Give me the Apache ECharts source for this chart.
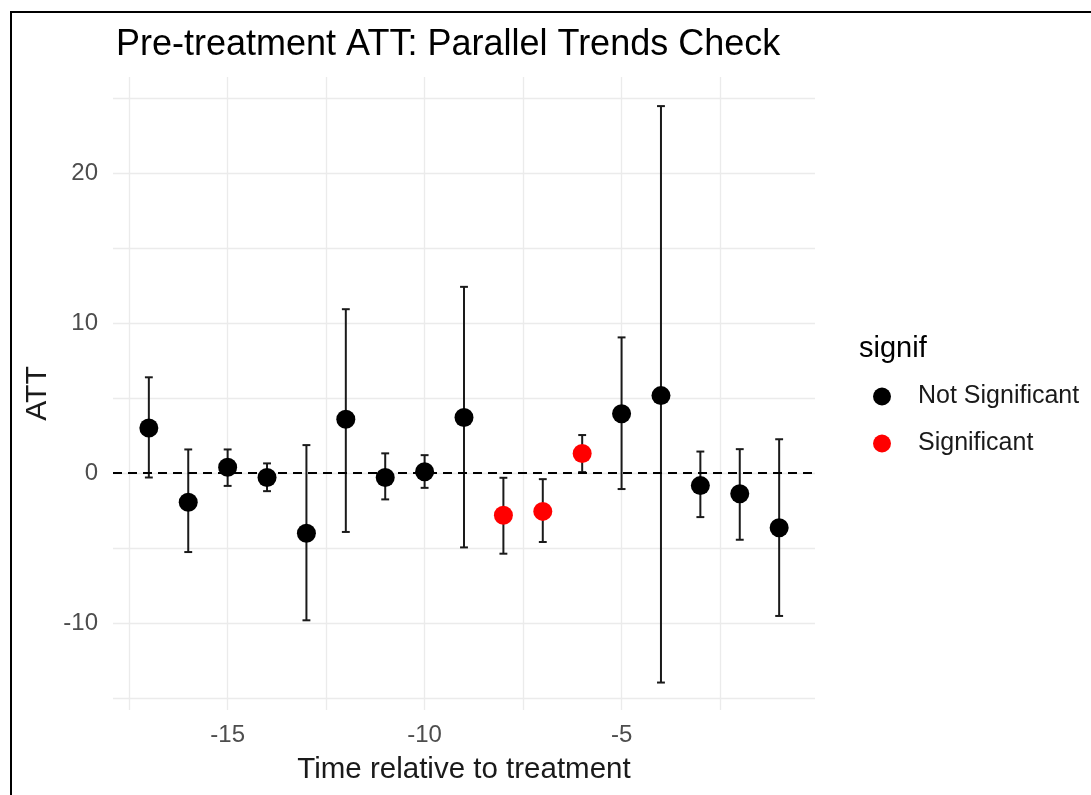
<!DOCTYPE html>
<html>
<head>
<meta charset="utf-8">
<title>Pre-treatment ATT</title>
<script src="https://cdn.jsdelivr.net/npm/echarts@6/dist/echarts.min.js"></script>
<style>
  html, body { margin: 0; padding: 0; background: #fff; }
  #chart { width: 1091px; height: 795px; }
</style>
</head>
<body>
<div id="chart"></div>
<script>
// event time relative to treatment
var periods = [-17, -16, -15, -14, -13, -12, -11, -10, -9, -8, -7, -6, -5, -4, -3, -2, -1];
var att = [3.0, -1.95, 0.38, -0.3, -4.02, 3.58, -0.3, 0.08, 3.7, -2.82, -2.56, 1.3, 3.95, 5.16, -0.84, -1.38, -3.65];
var ciLow = [-0.3, -5.27, -0.86, -1.21, -9.82, -3.93, -1.76, -0.99, -4.96, -5.38, -4.6, 0.06, -1.07, -13.97, -2.94, -4.45, -9.53];
var ciHigh = [6.38, 1.57, 1.57, 0.64, 1.86, 10.92, 1.31, 1.19, 12.41, -0.32, -0.41, 2.53, 9.04, 24.46, 1.43, 1.59, 2.25];
var signif = [0, 0, 0, 0, 0, 0, 0, 0, 0, 1, 1, 1, 0, 0, 0, 0, 0];

var xTicks = [-17.5, -15, -12.5, -10, -7.5, -5, -2.5];
var xLabels = [-15, -10, -5];
var yTicks = [-15, -10, -5, 0, 5, 10, 15, 20, 25];
var yLabels = [-10, 0, 10, 20];

var FONT = "'Liberation Sans', Arial, sans-serif";
var GRID_COLOR = '#EBEBEB';

var errData = [], nsData = [], sData = [];
for (var i = 0; i < periods.length; i++) {
    errData.push([periods[i], ciLow[i], ciHigh[i]]);
    if (signif[i]) sData.push([periods[i], att[i]]);
    else nsData.push([periods[i], att[i]]);
}

// vertical bar with caps, cap width 0.2 in x units
function renderErrorBar(params, api) {
    var x = api.value(0);
    var top = api.coord([x, api.value(2)]);
    var bot = api.coord([x, api.value(1)]);
    var half = api.coord([x + 0.1, 0])[0] - top[0];
    var style = { stroke: '#1a1a1a', lineWidth: 2 };
    return {
        type: 'group',
        children: [
            { type: 'line', shape: { x1: top[0], y1: top[1], x2: bot[0], y2: bot[1] }, style: style },
            { type: 'line', shape: { x1: top[0] - half, y1: top[1], x2: top[0] + half, y2: top[1] }, style: style },
            { type: 'line', shape: { x1: bot[0] - half, y1: bot[1], x2: bot[0] + half, y2: bot[1] }, style: style }
        ]
    };
}

var chart = echarts.init(document.getElementById('chart'));

var option = {
    backgroundColor: '#fff',
    animation: false,
    title: [{
        text: 'Pre-treatment ATT: Parallel Trends Check',
        left: 111, top: 22,
        textStyle: { fontFamily: FONT, fontSize: 36, fontWeight: 'normal', color: '#000' }
    }, {
        text: 'signif',
        left: 854, top: 329,
        textStyle: { fontFamily: FONT, fontSize: 29, fontWeight: 'normal', color: '#000' }
    }],
    graphic: [{
        type: 'rect',
        shape: { x: 11, y: 12, width: 2000, height: 2000 },
        style: { fill: 'none', stroke: '#000', lineWidth: 2 }
    }],
    legend: {
        orient: 'vertical',
        left: 868, top: 379,
        itemWidth: 62, itemHeight: 18,
        itemGap: 22,
        icon: 'circle',
        data: ['Not Significant', 'Significant'],
        textStyle: { fontFamily: FONT, fontSize: 25, color: '#1a1a1a', lineHeight: 24 }
    },
    grid: { left: 113, right: 276, top: 77, bottom: 85 },
    xAxis: {
        type: 'value',
        min: -17.91, max: -0.09,
        name: 'Time relative to treatment',
        nameLocation: 'middle',
        nameGap: 45,
        nameTextStyle: { fontFamily: FONT, fontSize: 29.5, color: '#1a1a1a' },
        axisLine: { show: false },
        axisTick: { show: false, customValues: xTicks },
        axisLabel: { customValues: xLabels, margin: 13, fontFamily: FONT, fontSize: 24, color: '#4D4D4D' },
        splitLine: { show: true, lineStyle: { color: GRID_COLOR, width: 1.3 } }
    },
    yAxis: {
        type: 'value',
        min: -15.8, max: 26.4,
        name: 'ATT',
        nameLocation: 'middle',
        nameGap: 57,
        nameTextStyle: { fontFamily: FONT, fontSize: 30, color: '#1a1a1a' },
        axisLine: { show: false },
        axisTick: { show: false, customValues: yTicks },
        axisLabel: { customValues: yLabels, margin: 15, fontFamily: FONT, fontSize: 24, color: '#4D4D4D' },
        splitLine: { show: true, lineStyle: { color: GRID_COLOR, width: 1.3 } }
    },
    series: [{
        type: 'custom',
        name: 'errorbar',
        renderItem: renderErrorBar,
        data: errData,
        encode: { x: 0, y: [1, 2] },
        silent: true,
        z: 2,
        markLine: {
            silent: true,
            symbol: 'none',
            label: { show: false },
            lineStyle: { color: '#000', type: [9, 6], width: 2 },
            data: [{ yAxis: 0 }]
        }
    }, {
        type: 'scatter',
        name: 'Not Significant',
        data: nsData,
        symbolSize: 19,
        itemStyle: { color: '#000', opacity: 1 },
        z: 3
    }, {
        type: 'scatter',
        name: 'Significant',
        data: sData,
        symbolSize: 19,
        itemStyle: { color: '#FF0000', opacity: 1 },
        z: 3
    }]
};

chart.setOption(option);
</script>
</body>
</html>
